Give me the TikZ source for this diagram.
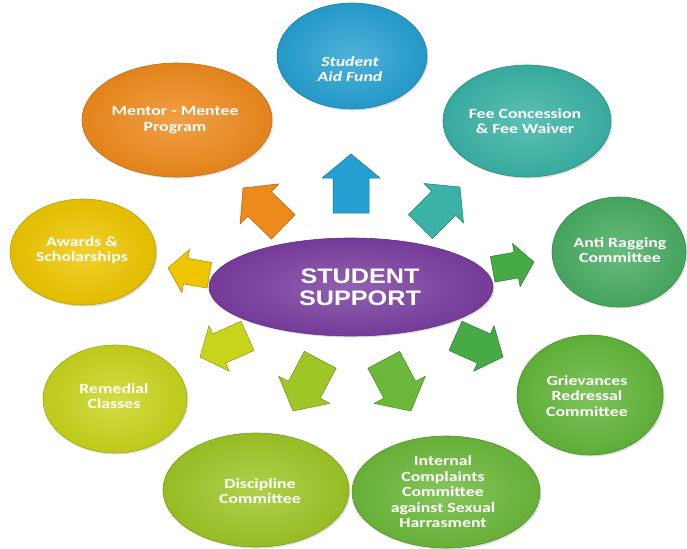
\documentclass[tikz,border=0pt]{standalone}
\usepackage{fontspec}
\newfontfamily\bubfont[FakeStretch=1.27]{Carlito}
\newfontfamily\hdfont[FakeStretch=1.2]{Liberation Sans}
\usetikzlibrary{shapes.geometric,shadows}
\definecolor{cpurple}{RGB}{122,62,160}
\definecolor{cblue}{RGB}{38,160,210}
\definecolor{corange}{RGB}{238,138,28}
\definecolor{cteal}{RGB}{58,178,165}
\definecolor{cyellow}{RGB}{238,198,0}
\definecolor{cgreenA}{RGB}{72,172,98}
\definecolor{cremed}{RGB}{200,212,28}
\definecolor{cgriev}{RGB}{98,182,58}
\definecolor{cdisc}{RGB}{158,198,38}
\definecolor{cint}{RGB}{108,184,58}
\definecolor{carrG}{RGB}{70,170,70}
% tip, angle, length, shaft, head width, head length, colour
\newcommand\blockarrow[7]{%
  \filldraw[fill=#7, draw=#7!70!black, line width=0.5pt, line join=round,
    shift={(#1)}, rotate=#2]
    (0,0) -- (-#6,#5/2) -- (-#6,#4/2) -- (-#3,#4/2) -- (-#3,-#4/2)
    -- (-#6,-#4/2) -- (-#6,-#5/2) -- cycle;}
\begin{document}
\begin{tikzpicture}[x=1pt,y=-1pt,
  bub/.style={ellipse, inner sep=0pt, draw=#1!80!black, line width=0.6pt,
    inner color=#1!82!white, outer color=#1!95!black,
    drop shadow={opacity=0.25,shadow xshift=1.5pt,shadow yshift=-1.5pt}},
  txt/.style={text=white, align=center, inner sep=0pt,
    font=\bubfont\bfseries\fontsize{14}{15.5}\selectfont}
]
\useasboundingbox (0,0) rectangle (687,548);
% arrow tips
\coordinate (p1) at (351,154);
\coordinate (p2) at (243,188);
\coordinate (p3) at (460,187);
\coordinate (p4) at (168,268);
\coordinate (p5) at (534,262);
\coordinate (p6) at (200,357);
\coordinate (p7) at (293,411);
\coordinate (p8) at (411,411);
\coordinate (p9) at (503,357);
\blockarrow{p1}{90}{59}{36}{58}{24}{cblue}
\blockarrow{p2}{136}{56}{34}{56}{23}{corange}
\blockarrow{p3}{45}{56}{34}{56}{23}{cteal}
\blockarrow{p4}{170}{42}{26}{44}{18}{cyellow}
\blockarrow{p5}{10}{42}{26}{44}{18}{carrG}
\blockarrow{p6}{204}{52}{32}{50}{21}{cremed}
\blockarrow{p7}{242}{58}{36}{58}{24}{cdisc}
\blockarrow{p8}{298}{58}{36}{58}{24}{cint}
\blockarrow{p9}{336}{52}{32}{50}{21}{carrG}
% centre
\node[bub=cpurple, minimum width=284pt, minimum height=98pt] (c) at (351,287) {};
\node[text=white, align=center, inner sep=0pt,
  font=\hdfont\bfseries\fontsize{21}{22}\selectfont] (ct) at (360,287) {STUDENT\\SUPPORT};
% outer bubbles
\node[bub=cblue, minimum width=150pt, minimum height=106pt] (b1) at (352,56) {};
\node[txt, font=\bubfont\bfseries\itshape\fontsize{14}{15.5}\selectfont] (t1) at (350,69) {Student\\Aid Fund};
\node[bub=corange, minimum width=190pt, minimum height=114pt] (b2) at (177,120) {};
\node[txt] (t2) at (175,120) {Mentor - Mentee\\Program};
\node[bub=cteal, minimum width=168pt, minimum height=112pt] (b3) at (527,121) {};
\node[txt] (t3) at (525,121) {Fee Concession\\\& Fee Waiver};
\node[bub=cyellow, minimum width=146pt, minimum height=106pt] (b4) at (83,252) {};
\node[txt] (t4) at (82,250) {Awards \&\\Scholarships};
\node[bub=cgreenA, minimum width=134pt, minimum height=110pt] (b5) at (619,252) {};
\node[txt] (t5) at (620,250) {Anti Ragging\\Committee};
\node[bub=cremed, minimum width=144pt, minimum height=108pt] (b6) at (115,399) {};
\node[txt] (t6) at (114,396) {Remedial\\Classes};
\node[bub=cgriev, minimum width=146pt, minimum height=120pt] (b7) at (590,395) {};
\node[txt] (t7) at (587,396) {Grievances\\Redressal\\Committee};
\node[bub=cdisc, minimum width=186pt, minimum height=114pt] (b8) at (256,490) {};
\node[txt] (t8) at (260,491) {Discipline\\Committee};
\node[bub=cint, minimum width=188pt, minimum height=112pt] (b9) at (446,492) {};
\node[txt] (t9) at (443,492) {Internal\\Complaints\\Committee\\against Sexual\\Harrasment};
\end{tikzpicture}
\end{document}
